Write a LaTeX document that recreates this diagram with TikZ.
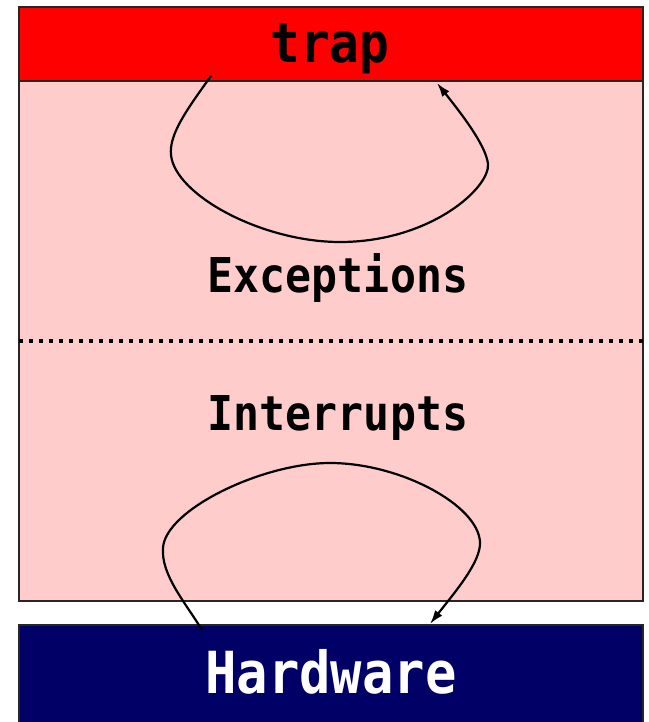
\documentclass[tikz,border=0pt]{standalone}
\usepackage{fontspec}
\setmonofont{DejaVu Sans Mono}[FakeStretch=0.9]
\usetikzlibrary{arrows.meta,positioning}
\definecolor{trapred}{RGB}{255,0,0}
\definecolor{kernpink}{RGB}{255,204,204}
\definecolor{hwnavy}{RGB}{0,0,102}
\tikzstyle{band} = [rectangle, draw=black!85, line width=2pt, minimum width=624pt, inner sep=0pt, outer sep=0pt]
\tikzstyle{bigtext} = [font=\ttfamily\bfseries\fontsize{55}{60}\selectfont, anchor=base, inner sep=0pt]
\tikzstyle{midtext} = [font=\ttfamily\bfseries\fontsize{48}{54}\selectfont, anchor=base, inner sep=0pt]
\tikzstyle{flow} = [line width=2.2pt, -{Latex[length=14pt,width=9pt]}]

\begin{document}
\begin{tikzpicture}[x=1pt, y=-1pt]
    \clip (0,0) rectangle (648,722);

    % Boxes
    \node[band, fill=kernpink, minimum height=520pt] (kern) at (331,341) {};
    \node[band, fill=trapred, minimum height=74pt] (trap) at (331,44) {};
    \node[band, fill=hwnavy, minimum height=116pt] (hw) at (331,683) {};

    % Separator
    \draw[line width=4pt, dash pattern=on 4pt off 6pt] (kern.west) -- (kern.east);

    % Labels
    \node[bigtext] (traplbl) at (330,63) {trap};
    \node[midtext] (exc) at (338,292) {Exceptions};
    \node[midtext] (intr) at (338,430) {Interrupts};
    \node[bigtext, text=white, font=\ttfamily\bfseries\fontsize{58}{62}\selectfont] (hwlbl) at (331,693) {Hardware};

    % Loop ends
    \coordinate (excout) at (211,76);
    \coordinate (excin) at (437,83);
    \coordinate (intout) at (202,630);
    \coordinate (intin) at (430,624);

    % Exception loop
    \draw[flow] (excout) .. controls (185,112) and (169,135) .. (171,155)
        .. controls (175,195) and (262,242) .. (340,242)
        .. controls (430,242) and (490,188) .. (488,164)
        .. controls (486,145) and (460,112) .. (excin);

    % Interrupt loop
    \draw[flow] (intout) .. controls (185,602) and (161,575) .. (163,548)
        .. controls (165,510) and (262,463) .. (330,463)
        .. controls (400,463) and (478,505) .. (480,542)
        .. controls (481,562) and (455,592) .. (intin);
\end{tikzpicture}
\end{document}
